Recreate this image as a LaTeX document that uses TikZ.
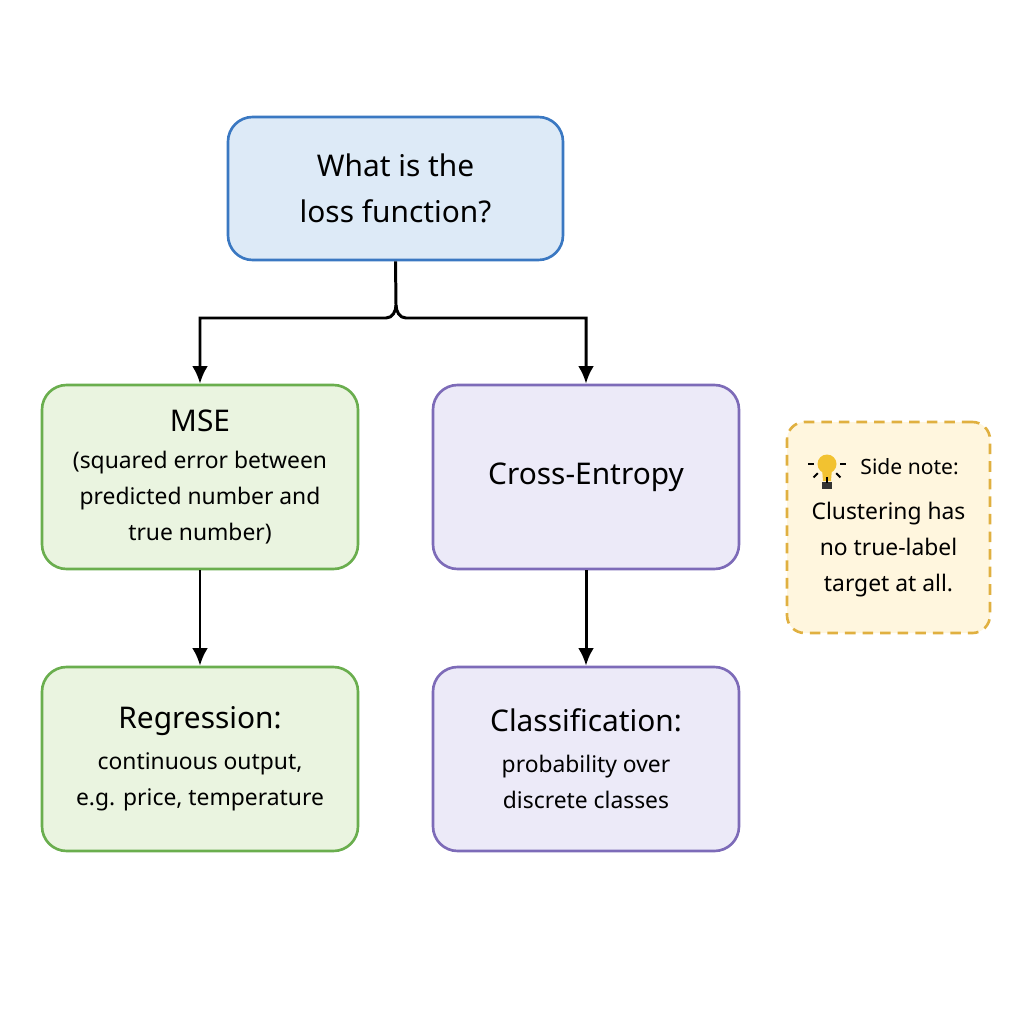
\documentclass[tikz,border=0pt]{standalone}
\usepackage{fontspec}
\setmainfont{Noto Sans}
\usetikzlibrary{positioning,arrows.meta}
\definecolor{qblue}{HTML}{DDEAF7}
\definecolor{qblueline}{HTML}{3A78C2}
\definecolor{mgreen}{HTML}{EAF4E0}
\definecolor{mgreenline}{HTML}{6AAE4E}
\definecolor{cpurple}{HTML}{ECEAF8}
\definecolor{cpurpleline}{HTML}{7D6BB8}
\definecolor{nyellow}{HTML}{FFF6DE}
\definecolor{nyellowline}{HTML}{E0B040}
\definecolor{bulb}{HTML}{F2C230}
\tikzset{
    box/.style={rectangle,rounded corners=14pt,line width=1.5pt,align=center,
                font=\fontsize{13}{20.5}\selectfont},
    flow/.style={-{Latex[length=10pt,width=9pt]},line width=1.7pt}
}
\begin{document}
\begin{tikzpicture}[x=0.02cm,y=-0.02cm]
\useasboundingbox (0,0) rectangle (1024,1024);
\begin{scope}[every node/.style={box}]
    \node (Q)[fill=qblue,draw=qblueline,minimum width=335*0.02cm,minimum height=143*0.02cm,
        font=\bfseries\fontsize{17}{26}\selectfont] at (395.5,188.5) {What is the\\loss function?};
    \node (M)[fill=mgreen,draw=mgreenline,minimum width=316*0.02cm,minimum height=184*0.02cm] at (200,477)
        {{\bfseries\fontsize{17}{22}\selectfont MSE}\\(squared error between\\predicted number and\\true number)};
    \node (C)[fill=cpurple,draw=cpurpleline,minimum width=306*0.02cm,minimum height=184*0.02cm,
        font=\bfseries\fontsize{17}{22}\selectfont] at (586,477) {Cross-Entropy};
    \node (R)[fill=mgreen,draw=mgreenline,minimum width=316*0.02cm,minimum height=184*0.02cm] at (200,759)
        {{\bfseries\fontsize{17}{22}\selectfont Regression:}\\[3pt]continuous output,\\e.g. price, temperature};
    \node (K)[fill=cpurple,draw=cpurpleline,minimum width=306*0.02cm,minimum height=184*0.02cm] at (586,759)
        {{\bfseries\fontsize{17}{22}\selectfont Classification:}\\[3pt]probability over\\discrete classes};
    \node (N)[fill=nyellow,draw=nyellowline,dashed,dash pattern=on 6pt off 4pt,
        minimum width=203*0.02cm,minimum height=211*0.02cm,rounded corners=10pt] at (888.5,527.5)
        {\hspace*{24pt}{\bfseries\fontsize{12}{16}\selectfont Side note:}\\[5pt]Clustering has\\no true-label\\target at all.};
\end{scope}

% bulb
\fill[bulb] (827,464) circle (9.5);
\fill[bulb] (822,468) -- (832,468) -- (831,481) -- (823,481) -- cycle;
\fill[black!80] (822,482) rectangle (832,489);
\foreach \a in {180,225,270,315,0}
    \draw[line width=1.1pt] (827,464) ++(-\a:13) -- ++(-\a:6);

\draw[flow] (Q.south) -- (396,305) to[out=-90,in=0] (386,318) -| (M.north);
\draw[flow] (396,305) to[out=-90,in=180] (406,318) -| (C.north);
\draw[flow] (M) -- (R);
\draw[flow] (C) -- (K);
\end{tikzpicture}
\end{document}
